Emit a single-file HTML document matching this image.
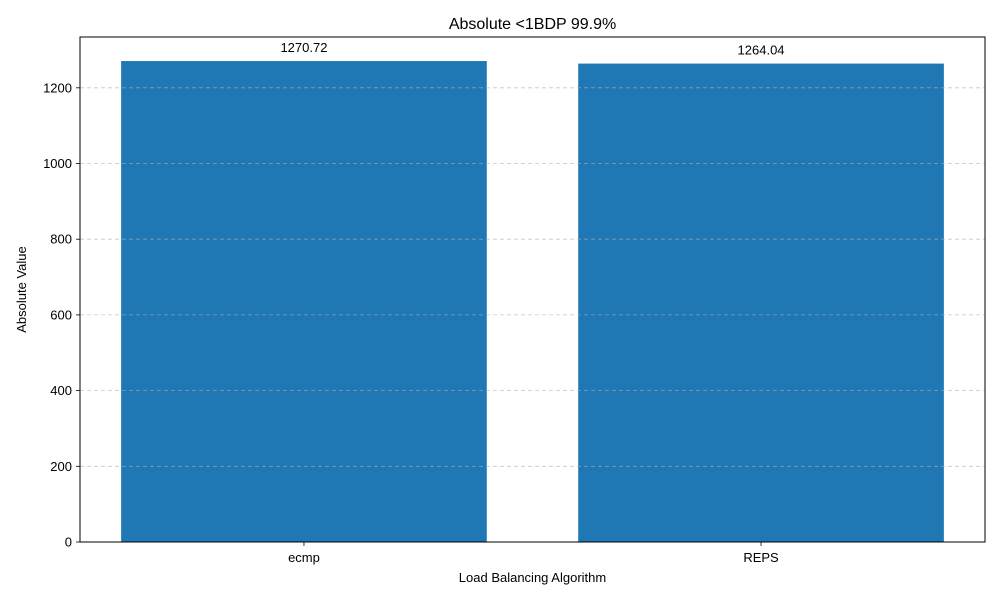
<!DOCTYPE html>
<html><head><meta charset="utf-8"><style>
html,body{margin:0;padding:0;background:#fff;}
svg{display:block;font-family:"Liberation Sans","DejaVu Sans",sans-serif;}
</style></head><body>
<svg id="chart" width="1000" height="600"></svg>
<script>
const categories = ["ecmp", "REPS"];
const values = [1270.72, 1264.04];
const valueLabels = ["1270.72", "1264.04"];
const yTicks = [0, 200, 400, 600, 800, 1000, 1200];

const L = 80, R = 985, T = 37, B = 542;
const yMax = Math.max(...values) * 1.05;
const xMin = -0.49, xMax = categories.length - 1 + 0.49;
const xs = v => L + (v - xMin) / (xMax - xMin) * (R - L);
const ys = v => B - v / yMax * (B - T);
const NS = "http://www.w3.org/2000/svg";
const svg = document.getElementById('chart');
function mk(tag, attrs, text) {
  const e = document.createElementNS(NS, tag);
  for (const k in attrs) e.setAttribute(k, attrs[k]);
  if (text !== undefined) e.textContent = text;
  svg.appendChild(e);
  return e;
}
// bars
categories.forEach((c, i) => {
  const x0 = xs(i - 0.4), x1 = xs(i + 0.4);
  const r = mk('rect', {x: x0, y: ys(values[i]), width: x1 - x0, height: B - ys(values[i]), fill: '#1f77b4'});
  
  
});
// grid (above bars)
yTicks.forEach(t => {
  const g = mk('line', {x1: L, x2: R, y1: ys(t), y2: ys(t), stroke: '#b0b0b0', 'stroke-width': 0.8, 'stroke-dasharray': '4,3', opacity: 0.7});
  
  
});
categories.forEach((c, i) => {
  const lab = mk('text', {x: xs(i), y: ys(values[i]) - 9, 'text-anchor': 'middle', 'font-size': 13, fill: '#000'}, valueLabels[i]);
  
  
  const tk = mk('line', {x1: xs(i), x2: xs(i), y1: B, y2: B + 4, stroke: '#000', 'stroke-width': 0.8});
  
  
  const tl = mk('text', {x: xs(i), y: B + 20, 'text-anchor': 'middle', 'font-size': 13, fill: '#000'}, c);
  
  
});
// y ticks
yTicks.forEach(t => {
  const tk = mk('line', {x1: L - 4, x2: L, y1: ys(t), y2: ys(t), stroke: '#000', 'stroke-width': 0.8});
  
  
  const tl = mk('text', {x: L - 8, y: ys(t) + 4.5, 'text-anchor': 'end', 'font-size': 13, fill: '#000'}, String(t));
  
  
});
// frame
const fr = mk('rect', {x: L, y: T, width: R - L, height: B - T, fill: 'none', stroke: '#000', 'stroke-width': 1});


const title = mk('text', {x: (L + R) / 2, y: 29, 'text-anchor': 'middle', 'font-size': 16, fill: '#000'}, 'Absolute <1BDP 99.9%');


const xt = mk('text', {x: (L + R) / 2, y: 582, 'text-anchor': 'middle', 'font-size': 13, fill: '#000'}, 'Load Balancing Algorithm');


const yt = mk('text', {x: 0, y: 0, 'text-anchor': 'middle', 'font-size': 13, fill: '#000', transform: 'translate(26,' + ((T + B) / 2) + ') rotate(-90)'}, 'Absolute Value');


</script>
</body></html>
